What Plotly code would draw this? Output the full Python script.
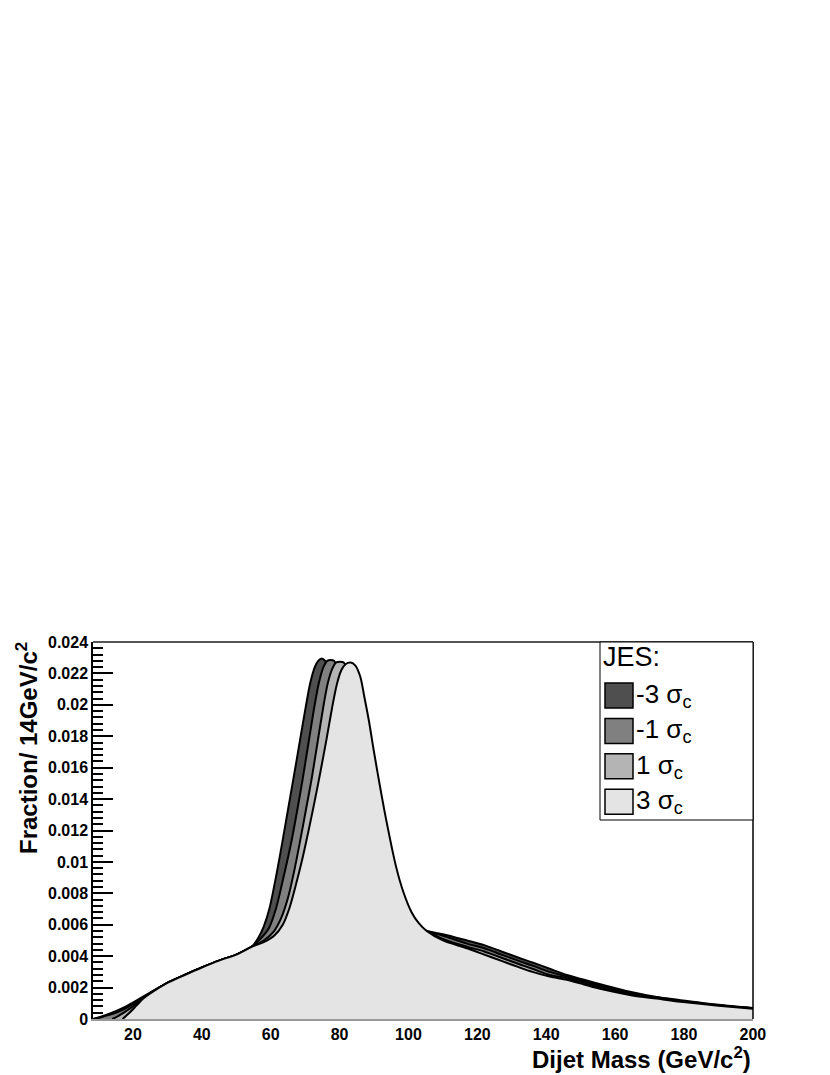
import plotly.graph_objects as go

# JES variations: x = dijet mass (GeV/c^2), y = fraction per 14 GeV/c^2
series_names = ["-3 σ<sub>c</sub>", "-1 σ<sub>c</sub>", "1 σ<sub>c</sub>", "3 σ<sub>c</sub>"]
fill_colors = ["#4f4f4f", "#808080", "#b4b4b4", "#e4e4e4"]

x_m3 = [8.4, 10, 12, 15, 18, 20, 25, 30, 35, 40, 45, 50, 54.5,
        56.5, 58, 59.6, 61.5, 63.5, 65, 66.6, 68.4, 70.2, 71.5, 72.8, 73.8, 74.8, 75.8, 77,
        78.3, 79.8, 81.5, 83.5, 86, 89, 93, 97, 101, 105.3,
        110, 117, 122, 127, 132, 136, 141, 146, 151, 156, 165, 172, 179, 190, 200]
y_m3 = [0.0, 0.0001, 0.00025, 0.0005, 0.0008, 0.00105, 0.00168, 0.0023, 0.0028, 0.00328,
        0.00372, 0.0041, 0.0046,
        0.0052, 0.0059, 0.007, 0.009, 0.0114, 0.0133, 0.0153, 0.0176, 0.0199, 0.0214, 0.0224,
        0.0228, 0.02295, 0.0228, 0.0221, 0.0207, 0.0188, 0.0166, 0.0141, 0.0114, 0.0089,
        0.0068, 0.0061, 0.0058, 0.0056,
        0.0054, 0.005, 0.0047, 0.0043, 0.0039, 0.0036, 0.0032, 0.0028, 0.0025, 0.0022, 0.0017,
        0.0014, 0.0012, 0.0009, 0.0007]

x_m1 = [8.4, 10, 12, 15, 18, 20, 25, 30, 35, 40, 45, 50, 54.5,
        57, 59.5, 61.5, 63.8, 66.1, 67.8, 69.3, 71, 72.7, 74, 75.3, 76.4, 77.4, 78.4, 79.6,
        81, 82.6, 84.5, 86.5, 89, 92, 96, 100, 105.3,
        110, 117, 122, 127, 132, 136, 141, 146, 151, 156, 165, 172, 179, 190, 200]
y_m1 = [0.0, 0.00006, 0.0002, 0.0004, 0.0007, 0.00095, 0.00166, 0.0023, 0.0028, 0.00328,
        0.00372, 0.0041, 0.0046,
        0.0051, 0.0058, 0.007, 0.0091, 0.0114, 0.0134, 0.0153, 0.0176, 0.0199, 0.0214, 0.0224,
        0.0228, 0.02285, 0.0228, 0.0221, 0.0205, 0.0186, 0.0162, 0.0139, 0.0112, 0.0086,
        0.0067, 0.006, 0.0056,
        0.0053, 0.0048, 0.0045, 0.0041, 0.0037, 0.0034, 0.003, 0.0027, 0.0024, 0.0021, 0.0016,
        0.0014, 0.00115, 0.00088, 0.00068]

x_p1 = [14, 15, 18, 20, 25, 30, 35, 40, 45, 50, 54.5,
        58, 61, 63, 65, 66.8, 68.6, 70.3, 71.9, 73.6, 75.3, 76.6, 77.9, 79, 80.1, 81.2, 82.4,
        83.8, 85.5, 87.5, 89.5, 92, 95, 98.5, 101.5, 105.3,
        110, 117, 122, 127, 132, 136, 141, 146, 151, 156, 165, 172, 179, 190, 200]
y_p1 = [0.0, 0.0001, 0.0005, 0.0008, 0.00164, 0.0023, 0.0028, 0.00328, 0.00372, 0.0041,
        0.0046,
        0.005, 0.0056, 0.0064, 0.0077, 0.0094, 0.0114, 0.0134, 0.0153, 0.0176, 0.0199, 0.0214,
        0.0223, 0.0227, 0.02274, 0.0227, 0.0221, 0.0205, 0.0182, 0.0155, 0.0128, 0.0098,
        0.0077, 0.0066, 0.006, 0.0056,
        0.0051, 0.0046, 0.0043, 0.0039, 0.0035, 0.0032, 0.0028, 0.0026, 0.0023, 0.002, 0.00155,
        0.0013, 0.0011, 0.00086, 0.00067]

x_p3 = [17, 19, 21, 23, 25, 30, 35, 40, 45, 50, 54.5,
        58, 61, 63.5, 65.5, 67.5, 69.3, 71, 72.8, 74.5, 76.2, 77.9, 79.2, 80.5, 81.8, 83.2,
        84.6, 86, 87.2, 88.5, 90, 91.5, 93.7, 96.4, 98.5, 100.9, 103, 105.3,
        110, 117, 122, 127, 132, 136, 141, 146, 151, 156, 165, 172, 179, 190, 200]
y_p3 = [0.0, 0.0004, 0.00085, 0.0013, 0.00163, 0.0023, 0.0028, 0.00328, 0.00372, 0.0041,
        0.0046,
        0.0049, 0.0053, 0.006, 0.0071, 0.0087, 0.0103, 0.012, 0.0139, 0.0158, 0.0178,
        0.0199, 0.0213, 0.0222, 0.0226, 0.0227,
        0.0225, 0.0218, 0.0205, 0.019, 0.017, 0.0151, 0.0125, 0.0097, 0.0081, 0.0068, 0.0061,
        0.0056,
        0.005, 0.0045, 0.0041, 0.0037, 0.0033, 0.003, 0.0027, 0.0025, 0.0022, 0.0019, 0.0015,
        0.0013, 0.0011, 0.00085, 0.00066]

xs = [x_m3, x_m1, x_p1, x_p3]
ys = [y_m3, y_m1, y_p1, y_p3]

fig = go.Figure()
for name, col, xv, yv in zip(series_names, fill_colors, xs, ys):
    fig.add_trace(go.Scatter(
        x=xv, y=yv, name=name, mode="lines", fill="tozeroy", fillcolor=col,
        line=dict(color="black", width=2, shape="spline", smoothing=0.8),
        showlegend=False,
    ))

W, H = 830, 1075
# plot area in window pixels
L, R, T, B = 93, 753, 642, 1019


def px(xp):
    return (xp - L) / (R - L)


def py(yp):
    return (B - yp) / (B - T)


shapes = [
    dict(type="line", xref="paper", yref="paper", x0=0, x1=1, y0=1, y1=1,
         line=dict(color="#555555", width=2)),
    dict(type="line", xref="paper", yref="paper", x0=1, x1=1, y0=0, y1=1,
         line=dict(color="black", width=1.5)),
    dict(type="rect", xref="paper", yref="paper", x0=px(600), x1=1, y0=py(820), y1=1,
         line=dict(color="black", width=1), fillcolor="white"),
]
annotations = [
    dict(text="JES:", xref="paper", yref="paper", x=px(601), y=py(657), xanchor="left",
         yanchor="middle", showarrow=False, font=dict(size=27, color="black")),
]
for i, (name, col) in enumerate(zip(series_names, fill_colors)):
    yc = 695.5 + i * 35.4
    shapes.append(dict(type="rect", xref="paper", yref="paper", x0=px(605), x1=px(633),
                       y0=py(yc + 12.5), y1=py(yc - 12.5), fillcolor=col,
                       line=dict(color="black", width=1.5)))
    annotations.append(dict(text=name, xref="paper", yref="paper", x=px(634), y=py(yc),
                            xanchor="left", yanchor="middle", showarrow=False,
                            font=dict(size=26, color="black")))

annotations.append(dict(text="Dijet Mass (GeV/c<sup>2</sup>)", xref="paper", yref="paper",
                        x=1, y=py(1058), xanchor="right", yanchor="middle", showarrow=False,
                        font=dict(size=24, color="black", weight="bold")))
annotations.append(dict(text="Fraction/ 14GeV/c<sup>2</sup>", xref="paper", yref="paper",
                        x=px(27), y=py(640), xanchor="center", yanchor="top", textangle=-90,
                        showarrow=False, font=dict(size=24, color="black", weight="bold")))

fig.update_layout(
    width=W, height=H,
    margin=dict(l=L, r=W - R, t=T, b=H - B),
    paper_bgcolor="white", plot_bgcolor="white",
    font=dict(family="Liberation Sans, Arial, sans-serif", color="black"),
    shapes=shapes, annotations=annotations,
    xaxis=dict(range=[8.4, 200.05], tick0=0, dtick=20, ticks="", showgrid=False,
               zeroline=False, showline=True, linecolor="#999999", linewidth=2,
               tickfont=dict(size=16, weight="bold", color="black")),
    yaxis=dict(range=[0, 0.024], tick0=0, dtick=0.002, ticks="inside", ticklen=20,
               tickwidth=1.5, tickcolor="black", showgrid=False, zeroline=False,
               showline=True, linecolor="black", linewidth=1.5,
               minor=dict(dtick=0.0004, ticks="inside", ticklen=10, tickcolor="black",
                          tickwidth=1.5, showgrid=False),
               tickfont=dict(size=16, weight="bold", color="black")),
)

# drop the browser's default 8px body margin so the figure fills the window exactly
fig.write_html("out.html", config={"displayModeBar": False},
               post_script="document.body.style.margin = '0px';")
